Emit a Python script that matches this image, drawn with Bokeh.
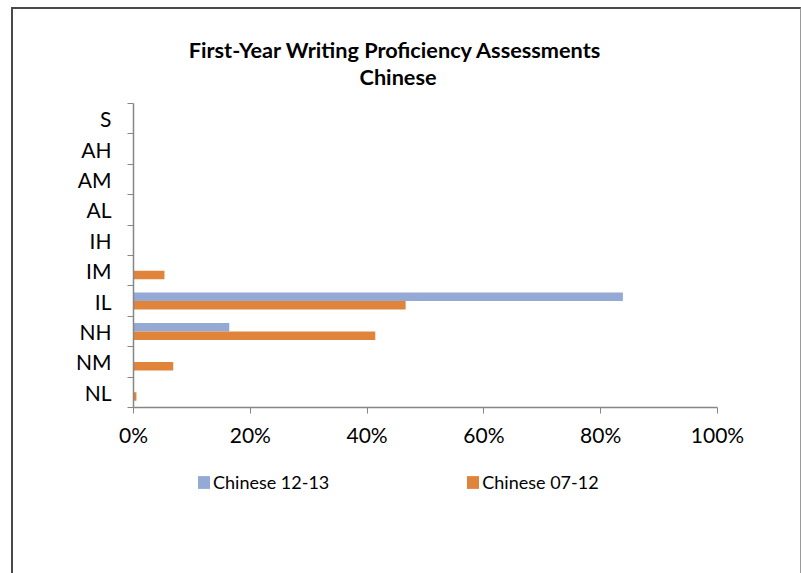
from bokeh.plotting import figure
from bokeh.layouts import column
from bokeh.models import (Range1d, FixedTicker, NumeralTickFormatter, Legend,
                          LegendItem, Label, ColumnDataSource)
from bokeh.transform import dodge
from bokeh.embed import file_html
from bokeh.resources import INLINE

# Proficiency levels, bottom to top
levels = ["NL", "NM", "NH", "IL", "IM", "IH", "AL", "AM", "AH", "S"]
# Share of students at each level (percent)
chinese_12_13 = [0.0, 0.0, 16.4, 83.8, 0.0, 0.0, 0.0, 0.0, 0.0, 0.0]
chinese_07_12 = [0.5, 6.8, 41.4, 46.6, 5.3, 0.0, 0.0, 0.0, 0.0, 0.0]
x_ticks = [0, 20, 40, 60, 80, 100]

series_names = ["Chinese 12-13", "Chinese 07-12"]
title_lines = ["First-Year Writing Proficiency  Assessments", "Chinese"]
colors = ["#94A9D3", "#E0843C"]
FONT = "Lato"
GRAY = "#868686"
W = 787

centers = [i + 0.5 for i in range(len(levels))]
src = ColumnDataSource(dict(
    y=centers,
    a=[v / 100 for v in chinese_12_13],
    b=[v / 100 for v in chinese_07_12],
))


def blank(height):
    f = figure(width=W, height=height, output_backend="svg", toolbar_location=None,
               x_axis_type=None, y_axis_type=None, min_border=0,
               x_range=Range1d(0, 1), y_range=Range1d(0, 1))
    f.outline_line_color = None
    f.grid.grid_line_color = None
    return f


# Two-line heading
head = blank(94)
for txt, yy in zip(title_lines, [0.565, 0.28]):
    head.add_layout(Label(x=0.453, y=yy, text=txt, text_align="center",
                          text_baseline="middle", text_font=FONT,
                          text_font_size="21.7px", text_font_style="bold",
                          text_color="#000000"))

p = figure(width=W, frame_width=584, frame_height=304,
           output_backend="svg", toolbar_location=None,
           x_range=Range1d(0, 1), y_range=Range1d(0, len(levels)),
           min_border_left=120, min_border_right=83,
           min_border_top=0, min_border_bottom=53)
p.title = None
p.outline_line_color = None
p.xgrid.grid_line_color = None
p.ygrid.grid_line_color = None

bar_h = 0.28
r1 = p.hbar(y=dodge("y", bar_h / 2, range=p.y_range), right="a", left=0,
            height=bar_h, source=src, fill_color=colors[0], line_color=None)
r2 = p.hbar(y=dodge("y", -bar_h / 2, range=p.y_range), right="b", left=0,
            height=bar_h, source=src, fill_color=colors[1], line_color=None)

# y axis: labels at category centres, tick marks on category boundaries
ya = p.yaxis[0]
ya.ticker = FixedTicker(ticks=centers, minor_ticks=list(range(len(levels) + 1)))
ya.major_label_overrides = {c: lab for c, lab in zip(centers, levels)}
ya.major_tick_in = 0
ya.major_tick_out = 0
ya.minor_tick_in = 0
ya.minor_tick_out = 6
ya.minor_tick_line_color = GRAY
ya.axis_line_color = GRAY
ya.axis_line_width = 1.5
ya.major_label_standoff = 16
ya.major_label_text_font = FONT
ya.major_label_text_font_size = "21px"
ya.major_label_text_color = "#000000"

xa = p.xaxis[0]
xa.ticker = FixedTicker(ticks=[t / 100 for t in x_ticks], minor_ticks=[])
xa.formatter = NumeralTickFormatter(format="0%")
xa.major_tick_in = 0
xa.major_tick_out = 6
xa.major_tick_line_color = GRAY
xa.axis_line_color = GRAY
xa.axis_line_width = 1.5
xa.major_label_standoff = 8
xa.major_label_text_font = FONT
xa.major_label_text_font_size = "21px"
xa.major_label_text_color = "#000000"

# Legend strip below the chart; swatches use zero-size bars in the series colours
leg = blank(113)
s1 = leg.hbar(y=[0], left=[0], right=[0], height=0,
              fill_color=colors[0], line_color=None)
s2 = leg.hbar(y=[0], left=[0], right=[0], height=0,
              fill_color=colors[1], line_color=None)
legend = Legend(items=[LegendItem(label=series_names[0], renderers=[s1]),
                       LegendItem(label=series_names[1], renderers=[s2])],
                orientation="horizontal", location=(63, 80),
                glyph_width=15, glyph_height=16, label_standoff=2,
                spacing=136, padding=0, margin=0,
                label_text_font=FONT, label_text_font_size="18px",
                label_text_color="#000000",
                border_line_color=None, background_fill_alpha=0)
leg.add_layout(legend, "center")

page = column(head, p, leg, spacing=0)
page.styles = {
    "margin-left": "11px", "margin-top": "7px",
    "border-left": "2px solid #4a4a4a", "border-top": "2px solid #4a4a4a",
    "border-right": "1px solid #9a9a9a",
}

open("out.html", "w").write(file_html(page, INLINE))
